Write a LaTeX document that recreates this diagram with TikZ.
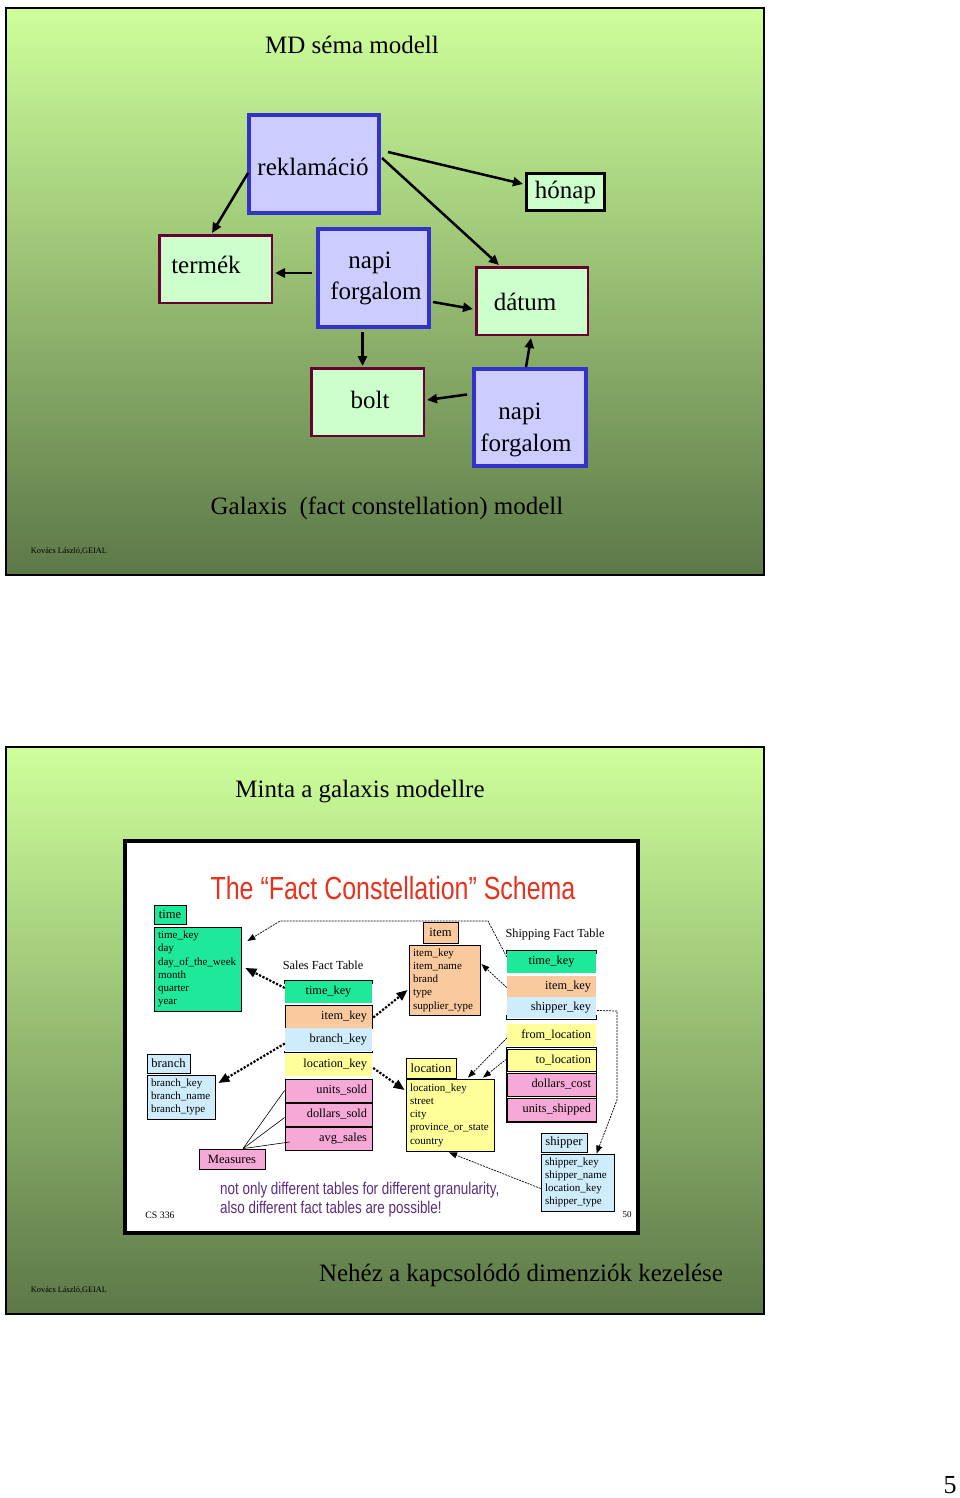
\documentclass[tikz,border=0pt]{standalone}
\usepackage{fontspec}
\setmainfont{Liberation Serif}
\setsansfont{Liberation Sans}
\usetikzlibrary{arrows.meta,calc}

\definecolor{slidetop}{RGB}{206,255,155}
\definecolor{slidebot}{RGB}{92,120,72}
\definecolor{lav}{RGB}{204,204,255}
\definecolor{blueb}{RGB}{51,51,204}
\definecolor{lgreen}{RGB}{204,255,204}
\definecolor{dred}{RGB}{102,0,51}
\definecolor{tgreen}{RGB}{30,232,154}
\definecolor{peach}{RGB}{250,202,158}
\definecolor{lblue}{RGB}{206,236,252}
\definecolor{lyellow}{RGB}{255,255,153}
\definecolor{lpink}{RGB}{246,168,214}
\definecolor{titred}{RGB}{230,50,30}
\definecolor{purp}{RGB}{90,45,130}

\tikzset{
  bigtext/.style={font=\fontsize{25}{30}\selectfont},
  factbox/.style={draw=blueb, line width=4pt, fill=lav, inner sep=0pt, align=center, bigtext},
  dimbox/.style={draw=dred, line width=2.5pt, fill=lgreen, inner sep=0pt, bigtext},
  monthbox/.style={draw=black, line width=3pt, fill=lgreen, inner sep=0pt, bigtext},
  bigarrow/.style={line width=2.5pt, -{Triangle[length=10pt,width=9pt]}},
  smalltext/.style={font=\fontsize{8.3}{10}\selectfont},
  srow/.style={inner xsep=5pt, inner ysep=0pt, text width=77pt, align=right, font=\fontsize{12.3}{14}\selectfont},
  shrow/.style={inner xsep=5pt, inner ysep=0pt, text width=79pt, align=right, font=\fontsize{12.3}{14}\selectfont},
  dimhead/.style={draw=black, line width=0.8pt, inner sep=0pt, font=\fontsize{12.6}{14}\selectfont},
  dimbody/.style={draw=black, line width=0.8pt, inner xsep=4pt, inner ysep=0pt, align=left, font=\fontsize{11}{13.2}\selectfont},
  thickdot/.style={line width=2.2pt, dash pattern=on 2.2pt off 1.6pt, -{Triangle[length=11pt,width=9pt]}},
  thindash/.style={line width=0.7pt, dash pattern=on 2pt off 1pt, -{Triangle[length=8pt,width=6pt]}},
  frame/.style={line width=0.9pt}
}

\begin{document}
\begin{tikzpicture}[x=1pt,y=-1pt]
\useasboundingbox (0,0) rectangle (960,1498);
\fill[white] (0,0) rectangle (960,1498);

% ---------------- slide 1 ----------------
\shade[top color=slidetop, bottom color=slidebot] (6,8) rectangle (764,575);
\draw[line width=2pt] (6,8) rectangle (764,575);

\node[bigtext] (t1) at (352,45) {MD séma modell};

\node[factbox, minimum width=130pt, minimum height=98pt] (rek) at (314,164) {};
\node[bigtext, inner sep=0pt] (rekt) at (313,167) {reklamáció};
\node[monthbox, minimum width=78pt, minimum height=37pt] (honap) at (565.5,192) {hónap};
\node[dimbox, minimum width=112.5pt, minimum height=67.5pt] (termek) at (215.5,269) {};
\node[bigtext, inner sep=0pt] (termekt) at (206,265) {termék};
\node[factbox, minimum width=111pt, minimum height=98pt] (nf1) at (373.5,278) {};
\node[bigtext, inner sep=0pt] (nf1a) at (370,263) {napi};
\node[bigtext, inner sep=0pt] (nf1b) at (376,293) {forgalom};
\node[dimbox, minimum width=111.5pt, minimum height=67.5pt] (datum) at (532,301) {};
\node[bigtext, inner sep=0pt] (datumt) at (525,302) {dátum};
\node[dimbox, minimum width=112.5pt, minimum height=67.5pt] (bolt) at (367.5,402) {};
\node[bigtext, inner sep=0pt] (boltt) at (370,400) {bolt};
\node[factbox, minimum width=112pt, minimum height=97pt] (nf2) at (530,417.5) {};
\node[bigtext, inner sep=0pt] (nf2a) at (520,414) {napi};
\node[bigtext, inner sep=0pt] (nf2b) at (526,445) {forgalom};

\draw[bigarrow] ($(rek.west)+(1,9)$) -- ($(termek.north)+(-3.5,-1)$);
\draw[bigarrow] ($(rek.east)+(7,-12)$) -- ($(honap.west)+(-2,-8)$);
\draw[bigarrow] ($(rek.east)+(1,-6)$) -- ($(datum.north)+(-33,-1)$);
\draw[bigarrow] ($(nf1.west)+(-4,-5)$) -- ($(termek.east)+(2,4)$);
\draw[bigarrow] ($(nf1.east)+(2,24)$) -- ($(datum.west)+(-2,8)$);
\draw[bigarrow] ($(nf1.south)+(-11,3)$) -- ($(bolt.north)+(-5,-1)$);
\draw[bigarrow] ($(nf2.west)+(-5,-23)$) -- ($(bolt.east)+(2,-2)$);
\draw[bigarrow] ($(nf2.north)+(-4,0)$) -- ($(datum.south)+(-1,2)$);

\node[bigtext] (cap1) at (387,508) {Galaxis\ \ (fact constellation) modell};
\node[smalltext] (auth1) at (69,551) {Kovács László,GEIAL};

% ---------------- slide 2 ----------------
\shade[top color=slidetop, bottom color=slidebot] (6,747) rectangle (764,1314);
\draw[line width=2pt] (6,747) rectangle (764,1314);

\node[bigtext] (t2) at (360,792) {Minta a galaxis modellre};

\filldraw[fill=white, draw=black, line width=4pt] (125,841) rectangle (638,1233);

\node[text=titred, font=\sffamily\fontsize{32}{36}\selectfont] (ititle) at (393,888)
  {\scalebox{0.78}[1]{The “Fact Constellation” Schema}};

% thin line from shipping time_key behind the item header
\coordinate (b1) at (488,921);
\coordinate (b2) at (280,921);

% time dimension
\node[dimhead, fill=tgreen, minimum width=32pt, minimum height=19pt] (timeH) at (170,914.5) {time};
\node[dimbody, fill=tgreen, text width=79pt, minimum height=84pt] (timeB) at (197.5,969)
  {time\_key\\day\\day\_of\_the\_week\\month\\quarter\\year};

% Shipping fact table
\node[font=\fontsize{12.3}{14}\selectfont] (shipL) at (555,935) {Shipping Fact Table};
\node[shrow, fill=tgreen, align=center, minimum height=22pt] (shTime) at (551.5,962) {time\_key};

\draw[thindash] ($(shTime.west)+(0,-5)$) -- (b1) -- (b2) -- ($(timeB.east)+(6,-28)$);

% item dimension
\node[dimhead, fill=peach, minimum width=35pt, minimum height=21pt] (itemH) at (440.5,932.5) {item};
\node[dimbody, fill=peach, text width=63pt, minimum height=70pt] (itemB) at (444.5,980)
  {item\_key\\item\_name\\brand\\type\\supplier\_type};

% branch dimension
\node[dimhead, fill=lblue, minimum width=43pt, minimum height=19pt] (branchH) at (168.5,1063.5) {branch};
\node[dimbody, fill=lblue, text width=60pt, minimum height=44pt] (branchB) at (181,1097)
  {branch\_key\\branch\_name\\branch\_type};

% location dimension
\node[dimhead, fill=lyellow, minimum width=50pt, minimum height=20pt] (locH) at (431,1068) {location};
\node[dimbody, fill=lyellow, text width=80pt, minimum height=72pt] (locB) at (450,1115)
  {location\_key\\street\\city\\province\_or\_state\\country};

% shipper dimension
\node[dimhead, fill=lblue, minimum width=46pt, minimum height=19pt] (shipH) at (564,1142.5) {shipper};
\node[dimbody, fill=lblue, text width=65pt, minimum height=57pt] (shipB) at (577.5,1182.5)
  {shipper\_key\\shipper\_name\\location\_key\\shipper\_type};

% Sales fact table
\node[font=\fontsize{12.3}{14}\selectfont] (salesL) at (323,965) {Sales Fact Table};
\node[srow, fill=tgreen, align=center, minimum height=22pt] (sTime) at (328.5,992) {time\_key};
\node[srow, fill=peach, draw=black, line width=0.6pt, minimum height=23pt] (sItem) at (328.5,1016.5) {item\_key};
\node[srow, fill=lblue, minimum height=23pt] (sBranch) at (328.5,1039.5) {branch\_key};
\node[srow, fill=lyellow, minimum height=22pt] (sLoc) at (328.5,1065) {location\_key};
\node[srow, fill=lpink, draw=black, line width=0.8pt, minimum height=23pt] (sUnits) at (328.5,1090.5) {units\_sold};
\node[srow, fill=lpink, draw=black, line width=0.8pt, minimum height=23pt] (sDollars) at (328.5,1114.5) {dollars\_sold};
\node[srow, fill=lpink, draw=black, line width=0.8pt, minimum height=23pt] (sAvg) at (328.5,1139) {avg\_sales};
\draw[frame] ($(sTime.north west)+(0,3)$) -- (sTime.north west) -- (sTime.north east) -- ($(sTime.north east)+(0,3)$);
\draw[frame] ($(sLoc.north west)+(0,-3)$) -- ($(sLoc.north west)+(0,-1)$) -- ($(sLoc.north east)+(0,-1)$) -- ($(sLoc.north east)+(0,-3)$);

% Shipping fact table rows
\node[shrow, fill=peach, minimum height=21pt] (shItem) at (551.5,986.5) {item\_key};
\node[shrow, fill=lblue, minimum height=21pt] (shShip) at (551.5,1007.5) {shipper\_key};
\node[shrow, fill=lyellow, minimum height=22pt] (shFrom) at (551.5,1035) {from\_location};
\node[shrow, fill=lyellow, draw=black, line width=0.6pt, minimum height=22pt] (shTo) at (551.5,1060) {to\_location};
\node[shrow, fill=lpink, draw=black, line width=0.6pt, minimum height=23pt] (shDol) at (551.5,1084.5) {dollars\_cost};
\node[shrow, fill=lpink, draw=black, line width=0.6pt, minimum height=23pt] (shUnits) at (551.5,1109.5) {units\_shipped};
\draw[frame] ($(shTime.north west)+(0,3)$) -- (shTime.north west) -- (shTime.north east) -- ($(shTime.north east)+(0,3)$);
\draw[frame] ($(shShip.south west)+(0,-3)$) -- ($(shShip.south west)+(0,1)$) -- ($(shShip.south east)+(0,1)$) -- ($(shShip.south east)+(0,-3)$);
\draw[frame] ($(shTo.north west)+(0,-1)$) rectangle ($(shUnits.south east)+(0,1)$);

% Measures
\node[dimhead, fill=lpink, minimum width=66pt, minimum height=20pt] (meas) at (232,1159) {Measures};
\draw[line width=0.6pt] ($(meas.north)+(11,0)$) -- (sUnits.west);
\draw[line width=0.6pt] ($(meas.north)+(11,0)$) -- ($(sDollars.west)+(0,3)$);
\draw[line width=0.6pt] ($(meas.north)+(11,0)$) -- ($(sAvg.west)+(5,3)$);

% connectors
\draw[thickdot] ($(sTime.west)+(0,-4)$) -- ($(timeB.east)+(4,-1)$);
\draw[thickdot] ($(sItem.east)+(1,1)$) -- ($(itemB.west)+(-1,10)$);
\draw[thindash] ($(shItem.west)+(0,1)$) -- ($(itemB.east)+(1,-16)$);
\draw[thickdot] ($(sBranch.west)+(0,4)$) -- ($(branchB.east)+(3,-14)$);
\draw[thickdot] ($(sLoc.east)+(1,3)$) -- ($(locB.west)+(-1,-25)$);
\draw[thindash] ($(shFrom.west)+(0,3)$) -- ($(locB.north)+(18,-1)$);
\draw[thindash] ($(shTo.west)+(0,-1)$) -- ($(locB.north)+(33,-1)$);
\coordinate (i1) at (617,1011);
\coordinate (i2) at (617,1100);
\draw[thindash] ($(shShip.east)+(1,3)$) -- (i1) -- (i2) -- ($(shipB.north)+(19,0)$);
\draw[thindash] ($(shipB.west)+(0,6)$) -- ($(locB.south)+(-1,1)$);

% notes
\node[anchor=west, align=left, inner sep=0pt, text=purp, font=\sffamily\fontsize{17}{19}\selectfont] (note) at (220,1200)
  {\scalebox{0.79}[1]{not only different tables for different granularity,}\\\scalebox{0.79}[1]{also different fact tables are possible!}};
\node[font=\fontsize{9.8}{11}\selectfont] (cs) at (160,1215) {CS 336};
\node[font=\fontsize{9}{11}\selectfont] (pg50) at (627,1215) {50};

\node[bigtext] (cap2) at (521,1275) {Nehéz a kapcsolódó dimenziók kezelése};
\node[smalltext] (auth2) at (69,1290) {Kovács László,GEIAL};

\node[font=\fontsize{26}{30}\selectfont] (pnum) at (950,1485) {5};
\end{tikzpicture}
\end{document}
